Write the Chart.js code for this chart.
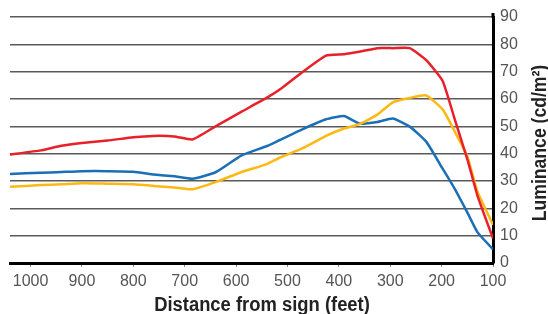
<!DOCTYPE html>
<html>
<head>
<meta charset="utf-8">
<script src="https://cdn.jsdelivr.net/npm/chart.js@4"></script>
<style>
  body { margin: 0; background: #fff; }
</style>
</head>
<body>
<canvas id="lumChart" width="548" height="314"></canvas>
<script>
// distance from sign (feet) and luminance readings (cd/m2)
var distance = [1040, 980, 940, 900, 850, 800, 760, 720, 685, 640, 590, 540, 515, 470, 425, 390, 360, 325, 295, 262, 230, 198, 175, 150, 130, 100];
var redLum    = [39.7, 41.2, 42.9, 43.9, 44.8, 46.0, 46.5, 46.3, 45.2, 50.0, 55.3, 60.5, 63.5, 70.0, 75.9, 76.4, 77.3, 78.6, 78.6, 78.6, 74.2, 66.6, 52.9, 38.0, 24.5, 9.0];
var yellowLum = [27.9, 28.5, 28.8, 29.2, 29.0, 28.8, 28.2, 27.6, 27.0, 29.6, 33.2, 36.2, 38.5, 42.0, 46.5, 49.2, 50.8, 54.3, 58.8, 60.4, 61.3, 56.2, 48.3, 39.0, 26.0, 14.0];
var blueLum   = [32.6, 33.0, 33.3, 33.6, 33.6, 33.4, 32.4, 31.7, 30.8, 33.2, 39.3, 42.8, 45.0, 49.0, 52.6, 53.8, 51.0, 51.6, 52.9, 49.9, 44.4, 34.5, 27.3, 18.5, 11.2, 5.0];

var xTicks = [1000, 900, 800, 700, 600, 500, 400, 300, 200, 100];
var yTicks = [0, 10, 20, 30, 40, 50, 60, 70, 80, 90];

var xTitle = 'Distance from sign (feet)';
var yTitle = 'Luminance (cd/m\u00B2)';

function pts(vals) {
  return vals.map(function (v, i) { return { x: distance[i], y: v }; });
}

var sans = '"Liberation Sans", Arial, sans-serif';

// titles are condensed bold; the y one reads bottom-to-top on the right
var axisTitles = {
  id: 'axisTitles',
  afterDraw: function (chart) {
    var c = chart.ctx;
    var yAx = chart.scales.y;
    c.save();
    // y axis line pokes a little above the top gridline
    c.strokeStyle = '#000';
    c.lineWidth = 3;
    c.beginPath();
    c.moveTo(yAx.left, chart.chartArea.top + 1);
    c.lineTo(yAx.left, chart.chartArea.top - 4);
    c.stroke();

    c.font = 'bold 20px ' + sans;
    c.fillStyle = '#222';
    c.textAlign = 'center';
    c.textBaseline = 'alphabetic';

    c.save();
    c.translate(262, 311);
    c.scale(0.92, 1);
    c.fillText(xTitle, 0, 0);
    c.restore();

    c.save();
    c.translate(546, 143);
    c.rotate(-Math.PI / 2);
    c.scale(0.88, 1);
    c.fillText(yTitle, 0, 0);
    c.restore();
    c.restore();
  }
};

var ctx = document.getElementById('lumChart');
var lumChart = new Chart(ctx, {
  type: 'line',
  data: {
    datasets: [
      { data: pts(redLum), borderColor: '#e8202a' },
      { data: pts(yellowLum), borderColor: '#fdb913' },
      { data: pts(blueLum), borderColor: '#1b6fb6' }
    ]
  },
  options: {
    responsive: false,
    animation: false,
    layout: { padding: { left: 10, top: 17, right: 0, bottom: 0 } },
    elements: {
      line: { borderWidth: 2.5, tension: 0.15, fill: false },
      point: { radius: 0 }
    },
    plugins: { legend: { display: false }, tooltip: { enabled: false } },
    scales: {
      x: {
        type: 'linear',
        reverse: true,
        min: 100,
        max: 1040,
        afterBuildTicks: function (s) { s.ticks = xTicks.map(function (v) { return { value: v }; }); },
        afterFit: function (s) { s.height = 51; },
        grid: { drawOnChartArea: false, drawTicks: true, tickLength: 4, color: '#888', lineWidth: 1 },
        border: { display: true, color: '#000', width: 3 },
        ticks: {
          color: '#555',
          font: { family: sans, size: 16 },
          padding: 5,
          maxRotation: 0,
          callback: function (v) { return String(v); }
        }
      },
      y: {
        position: 'right',
        min: 0,
        max: 90,
        afterBuildTicks: function (s) { s.ticks = yTicks.map(function (v) { return { value: v }; }); },
        afterFit: function (s) { s.width = 55; },
        grid: { color: '#5a5a5a', lineWidth: 1.5, drawTicks: false },
        border: { display: true, color: '#000', width: 3 },
        ticks: { color: '#555', font: { family: sans, size: 16 }, padding: 7 }
      }
    }
  },
  plugins: [axisTitles]
});
</script>
</body>
</html>
